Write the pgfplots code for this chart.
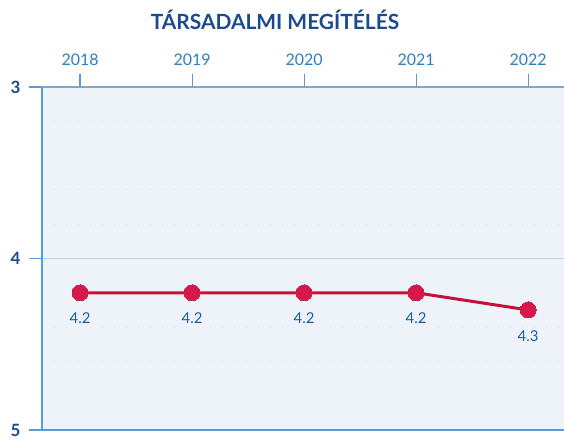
\documentclass[border=0pt]{standalone}
\usepackage{fontspec}
\setmainfont{Lato}
\usepackage{pgfplots}
\pgfplotsset{compat=1.18}
\definecolor{titleblue}{HTML}{1B4B8C}
\definecolor{yearblue}{HTML}{2E7DC2}
\definecolor{axblue}{HTML}{5A9AD5}
\definecolor{botblue}{HTML}{7FA5CC}
\definecolor{gridblue}{HTML}{B8D4EE}
\definecolor{bgblue}{HTML}{EEF3FA}
\definecolor{dotgrey}{HTML}{D5DEEA}
\definecolor{linered}{HTML}{C4103A}
\definecolor{markred}{HTML}{D6184A}
\definecolor{lblblue}{HTML}{1F5A9A}
\begin{document}
\begin{tikzpicture}[x=1bp,y=1bp]
\useasboundingbox (0,0) rectangle (564,440);
\node[font=\fontsize{21}{23}\selectfont\bfseries, text=titleblue] at (275,420) {TÁRSADALMI MEGÍTÉLÉS};
\begin{axis}[
  at={(42bp,10bp)}, anchor=south west,
  scale only axis, width=522bp, height=343bp,
  xmin=2017.66, xmax=2022.32,
  ymin=3, ymax=5, y dir=reverse,
  xtick={2018,2019,2020,2021,2022},
  xticklabels={2018,2019,2020,2021,2022},
  ytick={3,4,5},
  minor ytick={3.2,3.4,3.6,3.8,4.2,4.4,4.6,4.8},
  xtick pos=upper, ytick pos=lower,
  tick align=outside,
  major tick length=13bp,
  xticklabel pos=upper,
  tick style={axblue, line width=1.2bp},
  minor tick length=0pt,
  axis line style={draw=none},
  axis background/.style={fill=bgblue},
  ymajorgrids, yminorgrids,
  major grid style={gridblue, line width=1.2bp},
  minor grid style={dotgrey, line width=1bp, dash pattern=on 1.2bp off 10.8bp},
  xticklabel style={font=\fontsize{16}{17}\selectfont, text=yearblue, yshift=5bp},
  yticklabel style={font=\fontsize{17}{18}\selectfont\bfseries, text=titleblue, xshift=-5bp},
  /pgf/number format/assume math mode=true,
  clip=false,
  nodes near coords,
  every node near coord/.append style={font=\fontsize{15}{16}\selectfont, text=lblblue, anchor=north, yshift=-17bp},
  point meta=explicit symbolic,
  after end axis/.code={
    \draw[axblue, line width=1.5bp] (rel axis cs:0,0) -- (rel axis cs:0,1);
    \draw[axblue, line width=1.5bp] (rel axis cs:0,0) -- (rel axis cs:1,0);
    \draw[botblue, line width=2bp] (rel axis cs:0,1) -- (rel axis cs:1,1);
  },
]
\addplot[linered, line width=3bp, mark=*, mark size=8bp, mark options={fill=markred, draw=markred, line width=0pt}]
  coordinates {(2018,4.2)[4.2] (2019,4.2)[4.2] (2020,4.2)[4.2] (2021,4.2)[4.2] (2022,4.3)[4.3]};
\end{axis}
\end{tikzpicture}
\end{document}
